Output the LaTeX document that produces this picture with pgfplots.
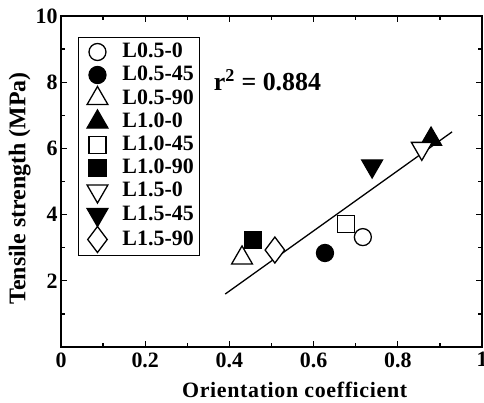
\documentclass[border=0pt]{standalone}
\usepackage{fontspec}
\setmainfont{Liberation Serif}
\usepackage{pgfplots}
\pgfplotsset{compat=1.18}
\begin{document}
\begin{tikzpicture}
\begin{axis}[
  scale only axis, width=421bp, height=331bp,
  xmin=0, xmax=1, ymin=0, ymax=10,
  xtick={0,0.2,0.4,0.6,0.8,1}, xticklabels={0,0.2,0.4,0.6,0.8,1},
  minor xtick={0.1,0.3,0.5,0.7,0.9},
  ytick={2,4,6,8,10}, minor ytick={1,3,5,7,9},
  tick align=inside, major tick length=6bp, minor tick length=4bp,
  axis line style={line width=1.6bp}, tick style={line width=1.3bp, black},
  /pgf/number format/assume math mode=true,
  ticklabel style={font=\fontsize{22}{22}\selectfont\bfseries},
  xticklabel style={yshift=-2bp},
  xlabel={Orientation coefficient}, ylabel={Tensile strength (MPa)},
  xlabel style={font=\fontsize{22}{22}\selectfont\bfseries\addfontfeature{LetterSpace=3},
    at={(ticklabel cs:0.555)}, yshift=-8bp},
  ylabel style={font=\fontsize{24}{24}\selectfont\bfseries, at={(ticklabel cs:0.479)}, yshift=-2bp},
  pt/.style={only marks, legend image code/.code={%
    \path[draw=none, fill=none] (0bp,-1bp) rectangle (38bp,1bp);
    \draw[##1, only marks] plot coordinates {(16bp,0bp)};}},
  legend style={at={(0.04,0.937)}, anchor=north west, draw=black, line width=1.3bp,
    font=\fontsize{22}{22}\selectfont\bfseries, cells={anchor=west}, row sep=0bp,
    inner sep=3bp, nodes={text height=16bp, text depth=5bp, inner ysep=1bp, inner xsep=3bp}},
  every axis plot/.append style={line width=1.3bp},
]
\addplot[black, line width=1.3bp, forget plot] coordinates {(0.39,1.6) (0.929,6.5)};
\addplot[pt, mark=*, mark size=8.5bp, mark options={fill=white, draw=black}] coordinates {(0.717,3.32)};
\addlegendentry{L0.5-0}
\addplot[pt, mark=*, mark size=8.5bp, mark options={fill=black, draw=black}] coordinates {(0.627,2.84)};
\addlegendentry{L0.5-45}
\addplot[pt, mark=triangle*, mark size=12bp, mark options={fill=white, draw=black}] coordinates {(0.43,2.69)};
\addlegendentry{L0.5-90}
\addplot[pt, mark=triangle*, mark size=12bp, mark options={fill=black, draw=black}] coordinates {(0.879,6.28)};
\addlegendentry{L1.0-0}
\addplot[pt, mark=square*, mark size=8.5bp, mark options={fill=white, draw=black}] coordinates {(0.677,3.72)};
\addlegendentry{L1.0-45}
\addplot[pt, mark=square*, mark size=8.5bp, mark options={fill=black, draw=black}] coordinates {(0.456,3.23)};
\addlegendentry{L1.0-90}
\addplot[pt, mark=triangle*, mark size=12bp, mark options={fill=white, draw=black, rotate=180}] coordinates {(0.857,6.0)};
\addlegendentry{L1.5-0}
\addplot[pt, mark=triangle*, mark size=12bp, mark options={fill=black, draw=black, rotate=180}] coordinates {(0.739,5.47)};
\addlegendentry{L1.5-45}
\addplot[pt, mark=diamond*, mark size=13bp, mark options={fill=white, draw=black}] coordinates {(0.508,2.93)};
\addlegendentry{L1.5-90}
\node[anchor=west, font=\fontsize{26}{26}\selectfont\bfseries] at (axis cs:0.355,8.07) {r\textsuperscript{2} = 0.884};
\end{axis}
\pgfresetboundingbox
\path ([shift={(-61bp,-56bp)}]current axis.south west) rectangle ([shift={(2bp,16bp)}]current axis.north east);
\end{tikzpicture}
\end{document}
